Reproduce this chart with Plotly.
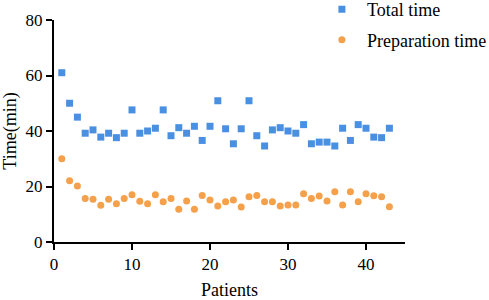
import plotly.graph_objects as go

patients = list(range(1, 44))
total_time = [61.0, 50.0, 45.0, 39.2, 40.4, 37.8, 39.2, 37.6, 39.2, 47.6,
              39.2, 40.0, 41.0, 47.6, 38.3, 41.2, 39.2, 41.7, 36.6, 41.7,
              50.9, 40.8, 35.4, 40.8, 50.9, 38.3, 34.6, 40.4, 41.2, 40.0,
              39.2, 42.3, 35.4, 36.0, 36.0, 34.6, 41.0, 36.6, 42.3, 41.0,
              37.8, 37.6, 41.0]
prep_time = [30.0, 22.1, 20.2, 15.7, 15.4, 13.2, 15.4, 13.8, 15.7, 17.0,
             14.7, 13.8, 17.0, 14.5, 15.7, 11.8, 14.8, 11.8, 16.8, 15.1,
             13.0, 14.5, 15.1, 12.6, 16.3, 16.8, 14.5, 14.5, 13.0, 13.3,
             13.3, 17.4, 15.7, 16.6, 14.8, 18.1, 13.3, 18.1, 14.5, 17.4,
             16.7, 16.3, 12.7]
x_ticks = [0, 10, 20, 30, 40]
y_ticks = [0, 20, 40, 60, 80]

font = "Times New Roman, Liberation Serif, DejaVu Serif, serif"

fig = go.Figure()
fig.add_trace(go.Scatter(x=patients, y=total_time, mode="markers", name="Total time",
                         legendgroup="a",
                         marker=dict(symbol="square", size=7, color="#4A90E2")))
fig.add_trace(go.Scatter(x=patients, y=prep_time, mode="markers", name="Preparation time",
                         legendgroup="b",
                         marker=dict(symbol="circle", size=7, color="#F5A04A")))

axis_common = dict(showline=True, linecolor="black", linewidth=2, ticks="outside",
                   tickcolor="black", tickwidth=2, ticklen=6, showgrid=False,
                   zeroline=False, automargin=False,
                   tickfont=dict(family=font, size=17, color="black"))

fig.update_layout(
    width=489, height=300,
    margin=dict(l=54, r=84, t=20, b=58, autoexpand=False),
    plot_bgcolor="white", paper_bgcolor="white",
    font=dict(family=font, size=17, color="black"),
    showlegend=True,
    legend=dict(x=0.749, y=1.13, xanchor="left", yanchor="top",
                bgcolor="rgba(0,0,0,0)", tracegroupgap=4, itemwidth=40,
                font=dict(family=font, size=18, color="black")),
    xaxis=dict(range=[0, 45], tickvals=x_ticks,
               title=dict(text="Patients", font=dict(family=font, size=18), standoff=13),
               **axis_common),
    yaxis=dict(range=[0, 80], tickvals=y_ticks,
               title=dict(text="Time(min)", font=dict(family=font, size=18), standoff=8),
               **axis_common),
)

fig.write_html("out.html", config={"displayModeBar": False},
               post_script="document.body.style.margin='0';document.body.style.overflow='hidden';")
